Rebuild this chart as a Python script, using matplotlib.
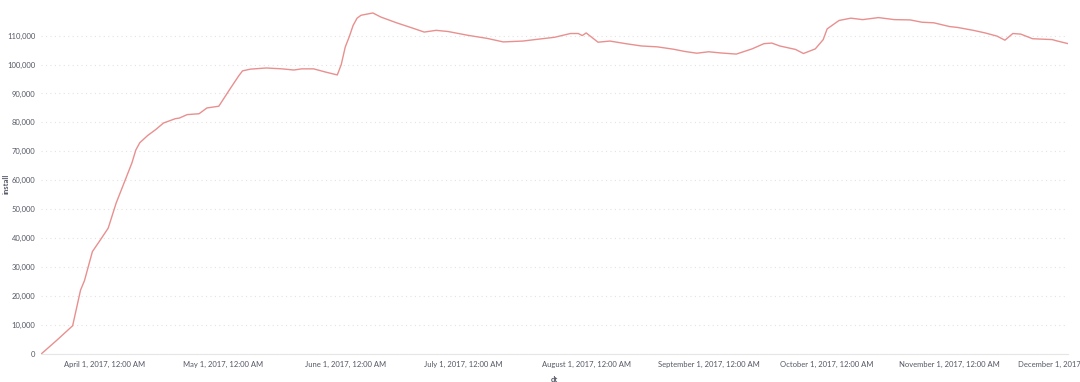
import matplotlib
matplotlib.use('Agg')
import matplotlib.pyplot as plt
import matplotlib.dates as mdates
from matplotlib.ticker import FuncFormatter, MultipleLocator
import pandas as pd

plt.rcParams['font.family'] = ['Lato', 'DejaVu Sans']

# 날짜별 install 값
dates = [
    '2017-03-16', '2017-03-20', '2017-03-24', '2017-03-26', '2017-03-27', '2017-03-29',
    '2017-03-31', '2017-04-02', '2017-04-04', '2017-04-08', '2017-04-09', '2017-04-10',
    '2017-04-12', '2017-04-14', '2017-04-16', '2017-04-19', '2017-04-20', '2017-04-22',
    '2017-04-25', '2017-04-27', '2017-04-30', '2017-05-03', '2017-05-05', '2017-05-06',
    '2017-05-08', '2017-05-10', '2017-05-12', '2017-05-16', '2017-05-19', '2017-05-21',
    '2017-05-24', '2017-05-27', '2017-05-30', '2017-05-31', '2017-06-01', '2017-06-02',
    '2017-06-03', '2017-06-04', '2017-06-05', '2017-06-08', '2017-06-10', '2017-06-14',
    '2017-06-18', '2017-06-21', '2017-06-24', '2017-06-27', '2017-07-02', '2017-07-07',
    '2017-07-11', '2017-07-16', '2017-07-19', '2017-07-24', '2017-07-28', '2017-07-30',
    '2017-07-31', '2017-08-01', '2017-08-04', '2017-08-07', '2017-08-11', '2017-08-15',
    '2017-08-19', '2017-08-23', '2017-08-26', '2017-08-29', '2017-09-01', '2017-09-04',
    '2017-09-08', '2017-09-12', '2017-09-15', '2017-09-17', '2017-09-19', '2017-09-23',
    '2017-09-25', '2017-09-28', '2017-09-30', '2017-10-01', '2017-10-04', '2017-10-07',
    '2017-10-10', '2017-10-14', '2017-10-18', '2017-10-22', '2017-10-25', '2017-10-28',
    '2017-11-01', '2017-11-03', '2017-11-07', '2017-11-10', '2017-11-13', '2017-11-15',
    '2017-11-17', '2017-11-19', '2017-11-22', '2017-11-27', '2017-11-28', '2017-12-01',
]
install = [
    0, 4800, 9800, 22100, 25400, 35400,
    39400, 43500, 52100, 66000, 70500, 73000,
    75500, 77500, 79800, 81300, 81500, 82700,
    83000, 85000, 85600, 91900, 96000, 97800,
    98400, 98600, 98800, 98500, 98100, 98500,
    98500, 97400, 96400, 100000, 106000, 109500,
    113500, 116000, 117000, 117800, 116400, 114400,
    112600, 111200, 111800, 111400, 110100, 109000,
    107800, 108100, 108600, 109400, 110700, 110700,
    110000, 110900, 107700, 108100, 107200, 106400,
    106100, 105300, 104500, 103900, 104400, 104000,
    103600, 105400, 107200, 107400, 106400, 105200,
    103800, 105400, 108600, 112300, 115200, 116000,
    115500, 116200, 115500, 115400, 114600, 114400,
    113100, 112800, 111800, 110900, 109800, 108400,
    110700, 110500, 108900, 108600, 108200, 107200,
]

dt = pd.to_datetime(dates)

fig = plt.figure(figsize=(10.8, 3.82), dpi=100)
ax = fig.add_axes([0.038, 0.073, 0.951, 0.909])

ax.plot(dt, install, color='#e8908f', linewidth=1.0)

ax.set_xlim(pd.Timestamp('2017-03-16'), pd.Timestamp('2017-12-01'))
ax.set_ylim(0, 119900)

ax.yaxis.set_major_locator(MultipleLocator(10000))
ax.yaxis.set_major_formatter(FuncFormatter(lambda v, p: f'{int(v):,}'))
ax.xaxis.set_major_locator(mdates.MonthLocator(bymonth=range(4, 13)))
ax.xaxis.set_major_formatter(FuncFormatter(
    lambda v, p: f'{mdates.num2date(v):%B} {mdates.num2date(v).day}, 2017, 12:00 AM'))

ax.grid(axis='y', color='#e3e3e3', linestyle=(0, (1, 3)), linewidth=0.8)
ax.set_axisbelow(True)
for s in ['top', 'right', 'left']:
    ax.spines[s].set_visible(False)
ax.spines['bottom'].set_color('#e6e6e6')
ax.spines['bottom'].set_linewidth(0.8)

ax.tick_params(axis='both', length=0, labelsize=5.5, labelcolor='#555866')
ax.tick_params(axis='y', pad=4)
ax.tick_params(axis='x', pad=5)

ax.set_ylabel('install', fontsize=5.5, color='#555866', fontweight='bold')
ax.yaxis.set_label_coords(-0.031, 0.49)
ax.set_xlabel('dt', fontsize=5.5, color='#555866', fontweight='bold', labelpad=6)

fig.savefig('out.png', dpi=100)
